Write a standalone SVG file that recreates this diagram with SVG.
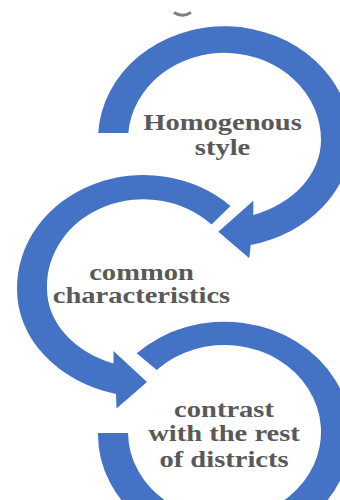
<svg xmlns="http://www.w3.org/2000/svg" width="340" height="500" viewBox="0 0 340 500">
  <style>
    .ring { fill: #4472C4; stroke: none; }
    .lbl { font-family: "Liberation Serif", "Times New Roman", serif; font-weight: bold; font-size: 23.5px; fill: #595959; text-anchor: middle; }
    .frag { fill: none; stroke: #7f7f7f; stroke-width: 3; }
  </style>
  <rect x="0" y="0" width="340" height="500" fill="#ffffff"/>
  <path class="frag" d="M 174,12.5 Q 182,18 191,12.5"/>
  <g id="connectors">
    <path id="arrow-top" class="ring" d="M 98.2,133 A 126.5 113 0 0 1 351,140 A 131 108 0 0 1 250.7,245 L 249.3,258.3 L 218.3,231.7 L 253.3,200.7 L 253.3,215 A 103.8 80 0 0 0 321,140 A 96.5 87 0 0 0 128.3,133 Z"/>
    <path id="arrow-middle" class="ring" d="M 230.5,206 A 126.5 113 0 0 0 17,289 A 131 108 0 0 0 116,394 L 116.5,408.5 L 147,382 L 113.5,351 L 113.5,363.5 A 103.8 80 0 0 1 47,289 A 96.5 87 0 0 1 211.5,224.5 Z"/>
    <path id="arrow-bottom" class="ring" d="M 136.7,353.3 A 126.5 113 0 1 1 98,433 L 128,433 A 96.5 87 0 1 0 156.7,370 Z"/>
  </g>
  <g id="node-homogenous">
    <text class="lbl" transform="translate(222.5,129.5) scale(1.215,1)"><tspan x="0" y="0">Homogenous</tspan><tspan x="0" y="26">style</tspan></text>
  </g>
  <g id="node-common">
    <text class="lbl" transform="translate(141.5,280) scale(1.215,1)"><tspan x="0" y="0">common</tspan><tspan x="0" y="23.5">characteristics</tspan></text>
  </g>
  <g id="node-contrast">
    <text class="lbl" transform="translate(224,417) scale(1.215,1)"><tspan x="0" y="0">contrast</tspan><tspan x="0" y="24">with the rest</tspan><tspan x="0" y="50">of districts</tspan></text>
  </g>
</svg>
